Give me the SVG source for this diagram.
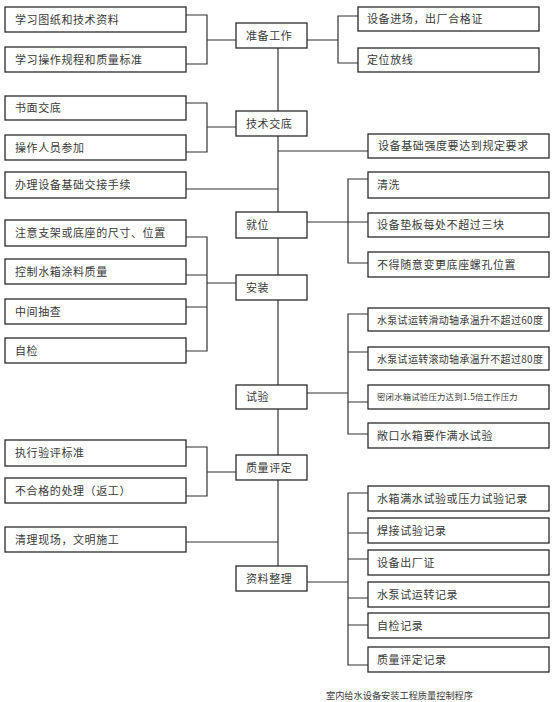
<svg xmlns="http://www.w3.org/2000/svg" width="554" height="702" viewBox="0 0 554 702">
<style>
.b{fill:#fff;stroke:#2a2a2a;stroke-width:1.3}
.t{font-family:"Noto Sans CJK SC","Liberation Serif",serif;font-size:11px;letter-spacing:0.6px;fill:#3a3a3a}
.s{font-size:10px;letter-spacing:0.3px}
.xs{font-size:8.4px;letter-spacing:0.2px}
.c{fill:none;stroke:#333;stroke-width:1.2}
</style>
<rect width="554" height="702" fill="#fff"/>
<g id="connectors" class="c">
<path d="M278 48V566"/>
<path d="M186 15H207V64H186M207 40H236"/>
<path d="M186 103H207V152H186M207 127H236"/>
<path d="M358 16H338V63H358M307 40H338"/>
<path d="M278 151H368"/>
<path d="M186 189H278"/>
<path d="M307 222H368M368 179H348V263H368"/>
<path d="M186 237H207V351H186M186 275H207M186 307H207M207 283H236"/>
<path d="M368 314H348V434H368M368 352H348M368 402H348M307 393H348"/>
<path d="M186 447H207V496H186M207 472H236"/>
<path d="M186 542H278"/>
<path d="M368 493H348V665H368M368 533H348M368 559H348M368 598H348M368 625H348M307 582H348"/>
</g>
<g id="L1"><rect class="b" x="5" y="7" width="181" height="25"/><text class="t" x="15" y="23.5">学习图纸和技术资料</text></g>
<g id="L2"><rect class="b" x="5" y="47" width="181" height="25"/><text class="t" x="15" y="63.5">学习操作规程和质量标准</text></g>
<g id="L3"><rect class="b" x="5" y="96" width="181" height="24"/><text class="t" x="15" y="112">书面交底</text></g>
<g id="L4"><rect class="b" x="5" y="135" width="181" height="25"/><text class="t" x="15" y="151.5">操作人员参加</text></g>
<g id="L5"><rect class="b" x="5" y="172" width="181" height="26"/><text class="t" x="15" y="189">办理设备基础交接手续</text></g>
<g id="L6"><rect class="b" x="5" y="220" width="181" height="26"/><text class="t" x="15" y="237">注意支架或底座的尺寸、位置</text></g>
<g id="L7"><rect class="b" x="5" y="259" width="181" height="25"/><text class="t" x="15" y="275.5">控制水箱涂料质量</text></g>
<g id="L8"><rect class="b" x="5" y="299" width="181" height="25"/><text class="t" x="15" y="315.5">中间抽查</text></g>
<g id="L9"><rect class="b" x="5" y="338" width="181" height="25"/><text class="t" x="15" y="354.5">自检</text></g>
<g id="L10"><rect class="b" x="5" y="440" width="181" height="26"/><text class="t" x="15" y="457">执行验评标准</text></g>
<g id="L11"><rect class="b" x="5" y="478" width="181" height="25"/><text class="t" x="15" y="494.5">不合格的处理（返工）</text></g>
<g id="L12"><rect class="b" x="5" y="527" width="181" height="25"/><text class="t" x="15" y="543.5">清理现场，文明施工</text></g>
<g id="C1"><rect class="b" x="236" y="23" width="71" height="25"/><text class="t" x="246" y="39.5">准备工作</text></g>
<g id="C2"><rect class="b" x="236" y="111" width="71" height="25"/><text class="t" x="246" y="127.5">技术交底</text></g>
<g id="C3"><rect class="b" x="236" y="212" width="71" height="26"/><text class="t" x="246" y="229">就位</text></g>
<g id="C4"><rect class="b" x="236" y="275" width="71" height="25"/><text class="t" x="246" y="291.5">安装</text></g>
<g id="C5"><rect class="b" x="236" y="385" width="71" height="24"/><text class="t" x="246" y="401">试验</text></g>
<g id="C6"><rect class="b" x="236" y="455" width="71" height="25"/><text class="t" x="246" y="471.5">质量评定</text></g>
<g id="C7"><rect class="b" x="236" y="566" width="71" height="25"/><text class="t" x="246" y="582.5">资料整理</text></g>
<g id="R1"><rect class="b" x="358" y="7" width="181" height="24"/><text class="t" x="367" y="23">设备进场，出厂合格证</text></g>
<g id="R2"><rect class="b" x="358" y="48" width="181" height="24"/><text class="t" x="367" y="64">定位放线</text></g>
<g id="R3"><rect class="b" x="368" y="134" width="181" height="24"/><text class="t" x="378" y="150">设备基础强度要达到规定要求</text></g>
<g id="R4"><rect class="b" x="368" y="172" width="181" height="26"/><text class="t" x="377" y="189">清洗</text></g>
<g id="R5"><rect class="b" x="368" y="213" width="181" height="24"/><text class="t" x="377" y="229">设备垫板每处不超过三块</text></g>
<g id="R6"><rect class="b" x="368" y="252" width="181" height="25"/><text class="t" x="377" y="268.5">不得随意变更底座螺孔位置</text></g>
<g id="R7"><rect class="b" x="368" y="308" width="181" height="23"/><text class="t s" x="377" y="323.5">水泵试运转滑动轴承温升不超过60度</text></g>
<g id="R8"><rect class="b" x="368" y="347" width="181" height="23"/><text class="t s" x="377" y="362.5">水泵试运转滚动轴承温升不超过80度</text></g>
<g id="R9"><rect class="b" x="368" y="385" width="181" height="24"/><text class="t xs" x="377" y="400">密闭水箱试验压力达到1.5倍工作压力</text></g>
<g id="R10"><rect class="b" x="368" y="423" width="181" height="25"/><text class="t" x="377" y="439.5">敞口水箱要作满水试验</text></g>
<g id="R11"><rect class="b" x="368" y="486" width="181" height="25"/><text class="t" x="377" y="502.5">水箱满水试验或压力试验记录</text></g>
<g id="R12"><rect class="b" x="368" y="518" width="181" height="25"/><text class="t" x="377" y="534.5">焊接试验记录</text></g>
<g id="R13"><rect class="b" x="368" y="550" width="181" height="25"/><text class="t" x="377" y="566.5">设备出厂证</text></g>
<g id="R14"><rect class="b" x="368" y="582" width="181" height="25"/><text class="t" x="377" y="598.5">水泵试运转记录</text></g>
<g id="R15"><rect class="b" x="368" y="613" width="181" height="25"/><text class="t" x="377" y="629.5">自检记录</text></g>
<g id="R16"><rect class="b" x="368" y="647" width="181" height="25"/><text class="t" x="377" y="663.5">质量评定记录</text></g>
<text class="t" x="326" y="699" style="font-size:9.2px;letter-spacing:0">室内给水设备安装工程质量控制程序</text>
</svg>
